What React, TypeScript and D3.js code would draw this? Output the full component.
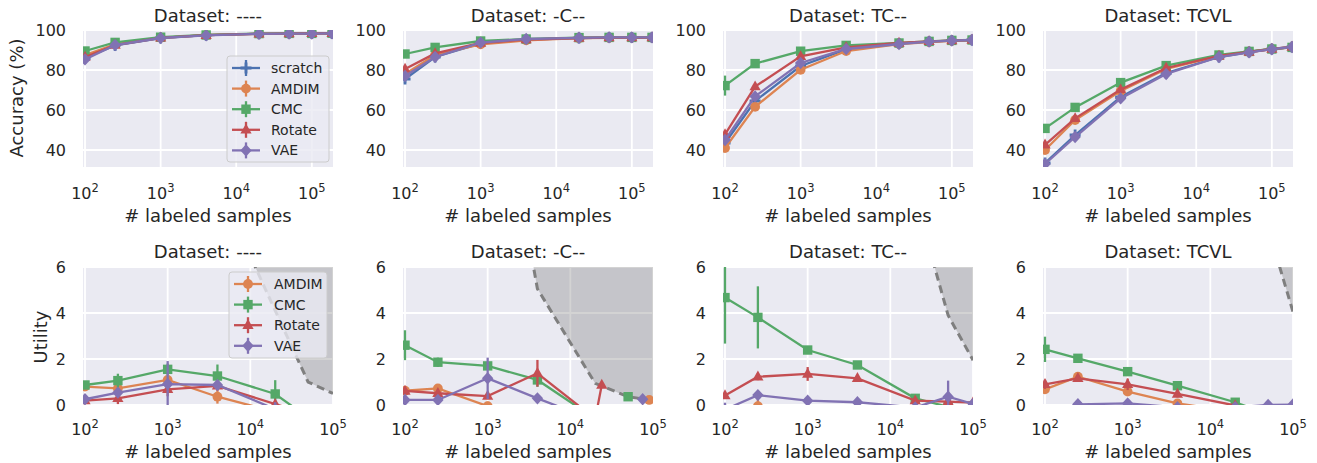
import React, { useEffect, useRef } from "react";
import * as d3 from "d3";

const methods = ["scratch", "AMDIM", "CMC", "Rotate", "VAE"];
const utilMethods = ["AMDIM", "CMC", "Rotate", "VAE"];
const methodColors = ["#4C72B0", "#DD8452", "#55A868", "#C44E52", "#8172B3"];
const datasets = ["----", "-C--", "TC--", "TCVL"];

// top row: accuracy (%), one row per method (scratch, AMDIM, CMC, Rotate, VAE)
const sampleSizes = [100, 250, 1000, 4000, 20000, 50000, 100000, 185000];

const accPlain = [
	[86, 92.3, 96, 97.4, 98.1, 98.2, 98.3, 98.3],
	[87.5, 92.8, 96.1, 97.4, 98.1, 98.2, 98.3, 98.3],
	[89.5, 93.8, 96.4, 97.5, 98.2, 98.3, 98.3, 98.4],
	[86.5, 92.5, 96.1, 97.4, 98.1, 98.2, 98.3, 98.3],
	[85.3, 92.5, 96, 97.3, 98.1, 98.2, 98.2, 98.3],
];
const accC = [
	[75.5, 86.5, 93.3, 95.2, 96.0, 96.2, 96.2, 96.2],
	[78, 87.5, 92.8, 94.8, 95.9, 96.1, 96.2, 96.2],
	[88, 91.3, 94.5, 95.5, 96.2, 96.3, 96.3, 96.3],
	[80.5, 88.3, 93.5, 95.2, 96.0, 96.2, 96.2, 96.2],
	[77, 86.5, 93.7, 95.5, 96.1, 96.3, 96.3, 96.3],
];
const accTC = [
	[43.5, 64.5, 82, 90.3, 93.2, 94.2, 94.7, 95],
	[41, 61.6, 80.1, 89.5, 93, 94, 94.6, 95],
	[72.2, 83.2, 89.4, 92.3, 93.5, 94.3, 94.8, 95],
	[47.8, 71.7, 86.8, 91.3, 93.5, 94.3, 94.7, 95],
	[45, 66.8, 83.5, 90.5, 93, 94.2, 94.7, 95],
];
const accTCVL = [
	[33.5, 47.5, 66.5, 78.5, 86.5, 89, 90.5, 91.5],
	[40, 55, 69.5, 80.5, 87, 89, 90.5, 91.3],
	[50.8, 61.3, 73.7, 82.2, 87.5, 89.3, 90.5, 91.3],
	[42.6, 55.8, 70.2, 81, 87, 89, 90.5, 91.5],
	[33, 46.5, 65.8, 78, 86.5, 88.8, 90.4, 91.5],
];

const errPlain = [
	[1.2, 0.6, 0.3, 0.2, 0.1, 0.1, 0.1, 0.1],
	[1.0, 0.5, 0.3, 0.2, 0.1, 0.1, 0.1, 0.1],
	[1.0, 0.5, 0.3, 0.2, 0.1, 0.1, 0.1, 0.1],
	[1.0, 0.5, 0.3, 0.2, 0.1, 0.1, 0.1, 0.1],
	[1.2, 0.6, 0.3, 0.2, 0.1, 0.1, 0.1, 0.1],
];
const errC = [
	[2, 1, 0.4, 0.2, 0.1, 0.1, 0.1, 0.1],
	[1.5, 0.8, 0.4, 0.2, 0.1, 0.1, 0.1, 0.1],
	[1, 0.6, 0.3, 0.2, 0.1, 0.1, 0.1, 0.1],
	[1.5, 0.8, 0.4, 0.2, 0.1, 0.1, 0.1, 0.1],
	[2, 1, 0.4, 0.2, 0.1, 0.1, 0.1, 0.1],
];
const errTC = [
	[1.5, 1, 0.6, 0.3, 0.2, 0.1, 0.1, 0.1],
	[1.5, 1, 0.6, 0.3, 0.2, 0.1, 0.1, 0.1],
	[5, 1, 0.6, 0.3, 0.2, 0.1, 0.1, 0.1],
	[1.5, 1, 0.6, 0.3, 0.2, 0.1, 0.1, 0.1],
	[1.5, 1, 0.6, 0.3, 0.2, 0.1, 0.1, 0.1],
];
const errTCVL = [
	[1, 0.8, 0.5, 0.3, 0.2, 0.1, 0.1, 0.1],
	[1, 0.8, 0.5, 0.3, 0.2, 0.1, 0.1, 0.1],
	[1, 0.8, 0.5, 0.3, 0.2, 0.1, 0.1, 0.1],
	[1, 0.8, 0.5, 0.3, 0.2, 0.1, 0.1, 0.1],
	[1, 0.8, 0.5, 0.3, 0.2, 0.1, 0.1, 0.1],
];

// bottom row: utility, [samples, utility, err] per point, null utility = gap
const utilPlain = [
	[[100, 0.8, 0.15], [250, 0.72, 0.15], [1000, 1.09, 0.2], [4000, 0.36, 0.3], [20000, -0.3, 0.3]],
	[[100, 0.87, 0.15], [250, 1.06, 0.3], [1000, 1.55, 0.25], [4000, 1.26, 0.5], [20000, 0.48, 0.6], [50000, -0.55, 0.3]],
	[[100, 0.19, 0.1], [250, 0.29, 0.25], [1000, 0.68, 0.3], [4000, 0.83, 0.2], [20000, 0.04, 0.1], [50000, -0.4, 0.2]],
	[[100, 0.25, 0.15], [250, 0.54, 0.2], [1000, 0.91, 1.0], [4000, 0.87, 0.2], [20000, -0.18, 0.3]],
];
const utilC = [
	[[100, 0.62, 0.1], [250, 0.72, 0.1], [1000, -0.05, 0.2], [4000, -1.5, 0.3], [50000, null, 0], [90000, 0.22, 0]],
	[[100, 2.6, 0.65], [250, 1.86, 0.2], [1000, 1.7, 0.15], [4000, 1.09, 0.3], [20000, -0.6, 0.3], [30000, null, 0], [50000, 0.36, 0]],
	[[100, 0.61, 0.1], [250, 0.51, 0.15], [1000, 0.39, 0.1], [4000, 1.38, 0.58], [20000, -0.6, 0.3], [24000, 0.87, 0]],
	[[100, 0.22, 0.05], [250, 0.22, 0.05], [1000, 1.16, 0.9], [4000, 0.29, 0.1], [20000, -0.68, 0.3], [50000, null, 0], [75000, 0.25, 0]],
];
const utilTC = [
	[[100, -1.0, 0.3], [250, -0.05, 0.3], [1000, -0.8, 0.3], [4000, -1.0, 0.3], [20000, -0.6, 0.3], [50000, -0.5, 0.3], [100000, -0.5, 0.2]],
	[[100, 4.67, 2.0], [250, 3.81, 1.35], [1000, 2.39, 0.15], [4000, 1.74, 0.15], [20000, 0.29, 0.15], [50000, -0.08, 0.2], [100000, -0.05, 0.2]],
	[[100, 0.41, 0.1], [250, 1.23, 0.15], [1000, 1.35, 0.3], [4000, 1.16, 0.15], [20000, 0.19, 0.1], [50000, 0.15, 0.1], [100000, 0.1, 0.05]],
	[[100, -0.2, 0.3], [250, 0.43, 0.15], [1000, 0.19, 0.05], [4000, 0.12, 0.05], [20000, -0.11, 0.1], [50000, 0.36, 0.7], [100000, 0.05, 0.1]],
];
const utilTCVL = [
	[[100, 0.68, 0.15], [250, 1.23, 0.15], [1000, 0.58, 0.15], [4000, 0.07, 0.1], [20000, -0.3, 0.1]],
	[[100, 2.42, 0.55], [250, 2.03, 0.1], [1000, 1.45, 0.15], [4000, 0.84, 0.15], [20000, 0.12, 0.1], [50000, -0.4, 0.1]],
	[[100, 0.9, 0.2], [250, 1.16, 0.15], [1000, 0.9, 0.25], [4000, 0.48, 0.15], [20000, -0.02, 0.1]],
	[[100, -0.4, 0.1], [250, 0.03, 0.05], [1000, 0.07, 0.05], [4000, -0.1, 0.05], [20000, -0.1, 0.05], [50000, 0.0, 0.05], [100000, 0.02, 0.05]],
];

// upper bound of measurable utility (shaded above)
const boundPlain = [[1000, 25], [4000, 9.6], [20000, 4.1], [50000, 1.0], [100000, 0.5]];
const boundC = [[1000, 17], [4000, 5.05], [20000, 0.94], [50000, 0.36], [100000, 0.2]];
const boundTC = [[4000, 40], [20000, 9.0], [50000, 3.9], [100000, 1.95]];
const boundTCVL = [[20000, 20], [50000, 7.7], [100000, 4.05]];

const accTicks = [40, 60, 80, 100];
const utilTicks = [0, 2, 4, 6];
const xTicks = [100, 1000, 10000, 100000];

const textColor = "#262626";
const font = "DejaVu Sans, sans-serif";

function drawMarker(g, method, color) {
	if (method === "scratch") {
		g.append("path").attr("d", "M-5.5,0H5.5M0,-5.5V5.5").attr("stroke", color).attr("stroke-width", 2.8).attr("fill", "none");
	} else if (method === "AMDIM") {
		g.append("circle").attr("r", 4.9).attr("fill", color);
	} else if (method === "CMC") {
		g.append("rect").attr("x", -4.7).attr("y", -4.7).attr("width", 9.4).attr("height", 9.4).attr("fill", color);
	} else if (method === "Rotate") {
		g.append("path").attr("d", "M0,-6.2L5.6,3.7L-5.6,3.7Z").attr("fill", color);
	} else {
		g.append("path").attr("d", "M0,-6.2L5.7,0L0,6.2L-5.7,0Z").attr("fill", color);
	}
}

function drawSeries(g, pts, x, y, method, color) {
	const s = g.append("g");
	const line = d3
		.line()
		.defined((d) => d[1] != null)
		.x((d) => x(d[0]))
		.y((d) => y(d[1]));
	s.append("path").attr("d", line(pts)).attr("fill", "none").attr("stroke", color).attr("stroke-width", 2.3);
	pts.filter((d) => d[1] != null && d[2] > 0).forEach((d) => {
		s.append("line")
			.attr("x1", x(d[0]))
			.attr("x2", x(d[0]))
			.attr("y1", y(d[1] - d[2]))
			.attr("y2", y(d[1] + d[2]))
			.attr("stroke", color)
			.attr("stroke-width", 2.3);
	});
	pts.filter((d) => d[1] != null).forEach((d) => {
		const m = s.append("g").attr("transform", `translate(${x(d[0])},${y(d[1])})`);
		drawMarker(m, method, color);
	});
}

function drawLegend(g, names, left, top, w, h, handleX, textX) {
	const lg = g.append("g");
	lg.append("rect")
		.attr("x", left)
		.attr("y", top)
		.attr("width", w)
		.attr("height", h)
		.attr("rx", 3)
		.attr("fill", "#EAEAF2")
		.attr("fill-opacity", 0.8)
		.attr("stroke", "#cccccc")
		.attr("stroke-width", 1);
	names.forEach((name, i) => {
		const cy = top + 12 + i * 20.6;
		const color = methodColors[methods.indexOf(name)];
		lg.append("line").attr("x1", handleX - 14).attr("x2", handleX + 14).attr("y1", cy).attr("y2", cy).attr("stroke", color).attr("stroke-width", 2.3);
		lg.append("line").attr("x1", handleX).attr("x2", handleX).attr("y1", cy - 8).attr("y2", cy + 8).attr("stroke", color).attr("stroke-width", 2.3);
		const m = lg.append("g").attr("transform", `translate(${handleX},${cy})`);
		drawMarker(m, name, color);
		lg.append("text")
			.attr("x", textX)
			.attr("y", cy)
			.attr("dy", "0.36em")
			.attr("font-size", 14)
			.attr("fill", textColor)
			.text(name);
	});
}

function drawAxesFrame(svg, idx, left, top, pw, ph, x, y, yTicks, tickBase, labelBase, titleBase, title) {
	const g = svg.append("g").attr("transform", `translate(${left},${top})`);
	g.append("rect").attr("width", pw).attr("height", ph).attr("fill", "#EAEAF2");
	xTicks.forEach((t) => {
		g.append("line").attr("x1", x(t)).attr("x2", x(t)).attr("y1", 0).attr("y2", ph).attr("stroke", "#fff").attr("stroke-width", 1.8);
		const lbl = svg
			.append("text")
			.attr("x", left + x(t))
			.attr("y", tickBase)
			.attr("text-anchor", "middle")
			.attr("font-size", 16)
			.attr("fill", textColor);
		lbl.append("tspan").text("10");
		lbl.append("tspan").attr("dy", -7).attr("font-size", 11.5).text(String(Math.round(Math.log10(t))));
	});
	yTicks.forEach((t) => {
		g.append("line").attr("x1", 0).attr("x2", pw).attr("y1", y(t)).attr("y2", y(t)).attr("stroke", "#fff").attr("stroke-width", 1.8);
		svg.append("text")
			.attr("x", left - 17)
			.attr("y", top + y(t))
			.attr("dy", "0.36em")
			.attr("text-anchor", "end")
			.attr("font-size", 16)
			.attr("fill", textColor)
			.text(t);
	});
	svg.append("text")
		.attr("x", left + pw / 2)
		.attr("y", labelBase)
		.attr("text-anchor", "middle")
		.attr("font-size", 18)
		.attr("fill", textColor)
		.text("# labeled samples");
	svg.append("text")
		.attr("x", left + pw / 2)
		.attr("y", titleBase)
		.attr("text-anchor", "middle")
		.attr("font-size", 18)
		.attr("fill", textColor)
		.text(`Dataset: ${title}`);
	const clipId = `clip-${idx}`;
	g.append("clipPath").attr("id", clipId).append("rect").attr("width", pw).attr("height", ph);
	return g.append("g").attr("clip-path", `url(#${clipId})`);
}

export default function App() {
	const ref = useRef(null);

	useEffect(() => {
		const svg = d3.select(ref.current);
		svg.selectAll("*").remove();

		const pw = 250;
		const lefts = [83, 403, 723, 1043];
		const topY = 30;
		const topH = 137;
		const botY = 267;
		const botH = 138;

		const accData = [accPlain, accC, accTC, accTCVL];
		const errData = [errPlain, errC, errTC, errTCVL];
		const utilData = [utilPlain, utilC, utilTC, utilTCVL];
		const boundData = [boundPlain, boundC, boundTC, boundTCVL];

		const xTop = d3.scaleLog().domain([94, 190500]).range([0, pw]);
		const yTop = d3.scaleLinear().domain([31.5, 100]).range([topH, 0]);
		const xBot = d3.scaleLog().domain([94.6, 100000]).range([0, pw]);
		const yBot = d3.scaleLinear().domain([0, 6]).range([botH, 0]);

		datasets.forEach((ds, i) => {
			// accuracy panel
			const plot = drawAxesFrame(svg, `a${i}`, lefts[i], topY, pw, topH, xTop, yTop, accTicks, 198.5, 222, 21.5, ds);
			methods.forEach((m, k) => {
				const pts = sampleSizes.map((n, j) => [n, accData[i][k][j], errData[i][k][j]]);
				drawSeries(plot, pts, xTop, yTop, m, methodColors[k]);
			});

			// utility panel
			const uplot = drawAxesFrame(svg, `u${i}`, lefts[i], botY, pw, botH, xBot, yBot, utilTicks, 435, 458, 258, ds);
			const area = d3
				.area()
				.x((d) => xBot(d[0]))
				.y0((d) => yBot(d[1]))
				.y1(-20);
			uplot.append("path").attr("d", area(boundData[i])).attr("fill", "rgba(128,128,128,0.35)");
			const bline = d3
				.line()
				.x((d) => xBot(d[0]))
				.y((d) => yBot(d[1]));
			uplot.append("path")
				.attr("d", bline(boundData[i]))
				.attr("fill", "none")
				.attr("stroke", "#7f7f7f")
				.attr("stroke-width", 3)
				.attr("stroke-dasharray", "8,5");
			utilMethods.forEach((m, k) => {
				drawSeries(uplot, utilData[i][k], xBot, yBot, m, methodColors[methods.indexOf(m)]);
			});
		});

		// legends
		const lgTop = svg.append("g").attr("transform", `translate(${lefts[0]},${topY})`);
		drawLegend(lgTop, methods, 144, 26, 102, 106, 163, 188);
		const lgBot = svg.append("g").attr("transform", `translate(${lefts[0]},${botY})`);
		drawLegend(lgBot, utilMethods, 146, 5, 98, 86, 165, 191);

		// y axis labels
		svg.append("text")
			.attr("transform", "translate(23,98) rotate(-90)")
			.attr("text-anchor", "middle")
			.attr("font-size", 18)
			.attr("fill", textColor)
			.text("Accuracy (%)");
		svg.append("text")
			.attr("transform", "translate(47,337) rotate(-90)")
			.attr("text-anchor", "middle")
			.attr("font-size", 18)
			.attr("fill", textColor)
			.text("Utility");
	}, []);

	return (
		<svg
			ref={ref}
			width={1317}
			height={463}
			style={{ position: "absolute", left: 0, top: 0, fontFamily: font, background: "#fff" }}
		/>
	);
}
